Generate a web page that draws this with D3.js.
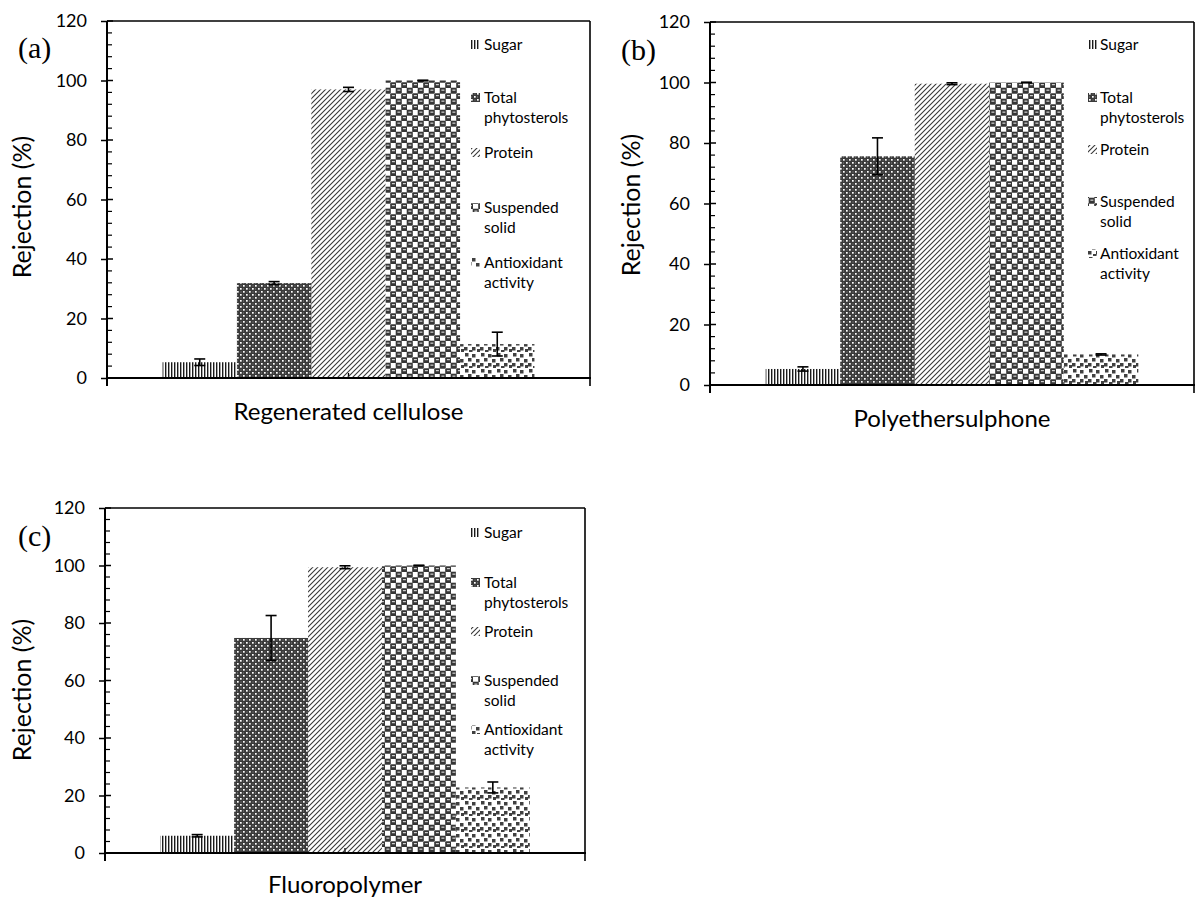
<!DOCTYPE html>
<html>
<head>
<meta charset="utf-8">
<script src="https://cdn.jsdelivr.net/npm/d3@7"></script>
<style>
  html, body { margin: 0; padding: 0; background: #fff; }
  svg { display: block; }
  text { font-family: Lato, "Open Sans", sans-serif; fill: #000; }
</style>
</head>
<body>
<svg id="chart" width="1203" height="902"></svg>
<script>
// ---------------- data ----------------
const panelLabels = ["(a)", "(b)", "(c)"];
const membranes = ["Regenerated cellulose", "Polyethersulphone", "Fluoropolymer"];
const components = ["Sugar", "Total phytosterols", "Protein", "Suspended solid", "Antioxidant activity"];
const legendLines = [["Sugar"], ["Total", "phytosterols"], ["Protein"], ["Suspended", "solid"], ["Antioxidant", "activity"]];
const rcValues  = [5.3, 31.9, 97.0, 100.0, 11.4];
const rcErrors  = [1.1, 0.5, 0.7, 0.1, 4.0];
const pesValues = [5.3, 75.6, 99.6, 100.0, 10.1];
const pesErrors = [0.7, 6.1, 0.3, 0.1, 0.2];
const fpValues  = [6.0, 74.8, 99.4, 100.0, 22.8];
const fpErrors  = [0.4, 7.8, 0.5, 0.1, 1.9];
const yTicks = [0, 20, 40, 60, 80, 100, 120];
const yMinorStep = 4;
const yMax = 120;

const seriesValues = [rcValues, pesValues, fpValues];
const seriesErrors = [rcErrors, pesErrors, fpErrors];

// ---------------- layout ----------------
const layouts = [
  { x0: 107, x1: 590, yTop: 21, yBot: 378, legSymX: 471, legTextX: 484,
    legY: [45, 98, 153, 208, 263], labX: 18, labY: 58, xTitleY: 420, yTitleX: 22, yTitleY: 207 },
  { x0: 710, x1: 1194, yTop: 22, yBot: 385, legSymX: 1088, legTextX: 1100,
    legY: [45, 98, 150, 202, 254], labX: 621, labY: 60, xTitleY: 427, yTitleX: 631, yTitleY: 205 },
  { x0: 105, x1: 585, yTop: 508, yBot: 853, legSymX: 471, legTextX: 484,
    legY: [533, 583, 632, 681, 730], labX: 18, labY: 546, xTitleY: 893, yTitleX: 22, yTitleY: 690 }
];

const svg = d3.select("#chart");
const defs = svg.append("defs");

// ---------------- patterns ----------------
function pat(id, w, h) {
  return defs.append("pattern").attr("id", id).attr("patternUnits", "userSpaceOnUse")
    .attr("width", w).attr("height", h);
}
// Sugar: narrow vertical lines
{
  const p = pat("p0", 3, 3);
  p.append("rect").attr("width", 3).attr("height", 3).attr("fill", "#fff");
  p.append("rect").attr("x", 0).attr("width", 1.4).attr("height", 3).attr("fill", "#1a1a1a");
}
// Total phytosterols: dense dark weave
{
  const p = pat("p1", 6, 6);
  p.append("rect").attr("width", 6).attr("height", 6).attr("fill", "#3a3a3a");
  p.append("rect").attr("x", 0).attr("y", 0).attr("width", 1.7).attr("height", 1.7).attr("fill", "#fff");
  p.append("rect").attr("x", 3).attr("y", 3).attr("width", 1.7).attr("height", 1.7).attr("fill", "#fff");
  p.append("rect").attr("x", 3).attr("y", 0.5).attr("width", 1).attr("height", 1).attr("fill", "#8a8a8a");
  p.append("rect").attr("x", 0.5).attr("y", 3.5).attr("width", 1).attr("height", 1).attr("fill", "#8a8a8a");
}
// Protein: wide upward diagonal
{
  const p = pat("p2", 5, 5);
  p.append("path").attr("d", "M0,5 L5,0 M-1.25,1.25 L1.25,-1.25 M3.75,6.25 L6.25,3.75")
    .attr("stroke", "#383838").attr("stroke-width", 1.1);
}
// Suspended solid: sphere-like checker
{
  const p = pat("p3", 11, 11);
  p.append("rect").attr("width", 11).attr("height", 11).attr("fill", "#fff");
  p.append("rect").attr("x", -0.3).attr("y", -0.3).attr("width", 6.1).attr("height", 6.1).attr("rx", 1.2).attr("fill", "#363636");
  p.append("rect").attr("x", 5.2).attr("y", 5.2).attr("width", 6.1).attr("height", 6.1).attr("rx", 1.2).attr("fill", "#363636");
  p.append("rect").attr("x", 10.7).attr("y", -0.3).attr("width", 0.6).attr("height", 11.6).attr("fill", "#363636");
  p.append("rect").attr("x", -0.3).attr("y", 10.7).attr("width", 11.6).attr("height", 0.6).attr("fill", "#363636");
  p.append("rect").attr("x", 1.4).attr("y", 1.6).attr("width", 3).attr("height", 1.1).attr("fill", "#e0e0e0");
  p.append("rect").attr("x", 6.9).attr("y", 7.1).attr("width", 3).attr("height", 1.1).attr("fill", "#e0e0e0");
}
// Antioxidant activity: large confetti
{
  const p = pat("p4", 16, 16);
  p.append("rect").attr("width", 16).attr("height", 16).attr("fill", "#fff");
  const sq = [[1,1],[8,2],[4,6],[12,7],[0,11],[8,11],[13,13],[5,14]];
  sq.forEach(([x, y]) => p.append("rect").attr("x", x).attr("y", y).attr("width", 3.5).attr("height", 3.5).attr("fill", "#404040"));
}

// ---------------- panels ----------------
layouts.forEach((L, pi) => {
  const g = svg.append("g");
  const values = seriesValues[pi];
  const errors = seriesErrors[pi];

  const y = d3.scaleLinear().domain([0, yMax]).range([L.yBot, L.yTop]);
  const x = d3.scaleBand().domain(components).range([L.x0, L.x1])
    .paddingInner(0).paddingOuter(0.747);

  // y axis with majors (outside)
  const yAxis = d3.axisLeft(y).tickValues(yTicks).tickSize(6).tickPadding(14).tickFormat(d3.format("d"));
  const ay = g.append("g").attr("transform", `translate(${L.x0},0)`).call(yAxis);
  ay.select(".domain").remove();
  ay.selectAll(".tick line").attr("stroke", "#000").attr("stroke-width", 1.5);
  ay.selectAll(".tick text").style("font-family", "Lato, sans-serif").style("font-size", "18px").attr("fill", "#000");

  // inner major ticks
  g.append("g").selectAll("line").data(yTicks).join("line")
    .attr("x1", L.x0).attr("x2", L.x0 + 6)
    .attr("y1", d => y(d)).attr("y2", d => y(d))
    .attr("stroke", "#000").attr("stroke-width", 1.5);
  // minor ticks (inside)
  const minor = d3.range(0, yMax + 0.001, yMinorStep).filter(v => v % 20 !== 0);
  g.append("g").selectAll("line").data(minor).join("line")
    .attr("x1", L.x0).attr("x2", L.x0 + 5)
    .attr("y1", d => y(d)).attr("y2", d => y(d))
    .attr("stroke", "#000").attr("stroke-width", 1.2);

  // center category tick (inside)
  g.append("line").attr("x1", (L.x0 + L.x1) / 2).attr("x2", (L.x0 + L.x1) / 2)
    .attr("y1", L.yBot).attr("y2", L.yBot - 5).attr("stroke", "#000").attr("stroke-width", 1.3);

  // bars
  g.append("g").selectAll("rect").data(components).join("rect")
    .attr("x", d => x(d)).attr("width", x.bandwidth())
    .attr("y", (d, i) => y(values[i])).attr("height", (d, i) => y(0) - y(values[i]))
    .attr("fill", (d, i) => `url(#p${i})`);

  // error bars
  const eb = g.append("g").attr("stroke", "#000").attr("stroke-width", 1.6);
  components.forEach((c, i) => {
    const cx = x(c) + x.bandwidth() / 2;
    const hi = y(values[i] + errors[i]), lo = y(values[i] - errors[i]);
    eb.append("line").attr("x1", cx).attr("x2", cx).attr("y1", hi).attr("y2", lo);
    eb.append("line").attr("x1", cx - 5.5).attr("x2", cx + 5.5).attr("y1", hi).attr("y2", hi);
    eb.append("line").attr("x1", cx - 5.5).attr("x2", cx + 5.5).attr("y1", lo).attr("y2", lo);
  });

  // frame
  g.append("line").attr("x1", L.x0).attr("x2", L.x0).attr("y1", L.yTop).attr("y2", L.yBot + 8)
    .attr("stroke", "#000").attr("stroke-width", 2);
  g.append("line").attr("x1", L.x1).attr("x2", L.x1).attr("y1", L.yTop).attr("y2", L.yBot + 8)
    .attr("stroke", "#000").attr("stroke-width", 1.6);
  g.append("line").attr("x1", L.x0).attr("x2", L.x1).attr("y1", L.yTop).attr("y2", L.yTop)
    .attr("stroke", "#000").attr("stroke-width", 1.6);
  g.append("line").attr("x1", L.x0 - 1).attr("x2", L.x1 + 1).attr("y1", L.yBot).attr("y2", L.yBot)
    .attr("stroke", "#000").attr("stroke-width", 2);

  // legend
  components.forEach((c, i) => {
    const ly = L.legY[i];
    g.append("rect").attr("x", L.legSymX).attr("y", ly - 5).attr("width", 9).attr("height", 9)
      .attr("fill", `url(#p${i})`);
    const t = g.append("text").attr("x", L.legTextX).attr("y", ly)
      .style("font-size", "15.5px");
    legendLines[i].forEach((ln, k) => {
      t.append("tspan").attr("x", L.legTextX).attr("dy", k === 0 ? "0.35em" : "20px").text(ln);
    });
  });

  // axis titles
  g.append("text").attr("x", (L.x0 + L.x1) / 2).attr("y", L.xTitleY)
    .attr("text-anchor", "middle").style("font-size", "24px").text(membranes[pi]);
  g.append("text").attr("transform", `translate(${L.yTitleX},${L.yTitleY}) rotate(-90)`)
    .attr("text-anchor", "middle").attr("dy", "0.35em").style("font-size", "25px").text("Rejection (%)");

  // panel label
  g.append("text").attr("x", L.labX).attr("y", L.labY)
    .style("font-family", "'Liberation Serif', 'DejaVu Serif', serif").style("font-size", "30px")
    .text(panelLabels[pi]);
});
</script>
</body>
</html>
